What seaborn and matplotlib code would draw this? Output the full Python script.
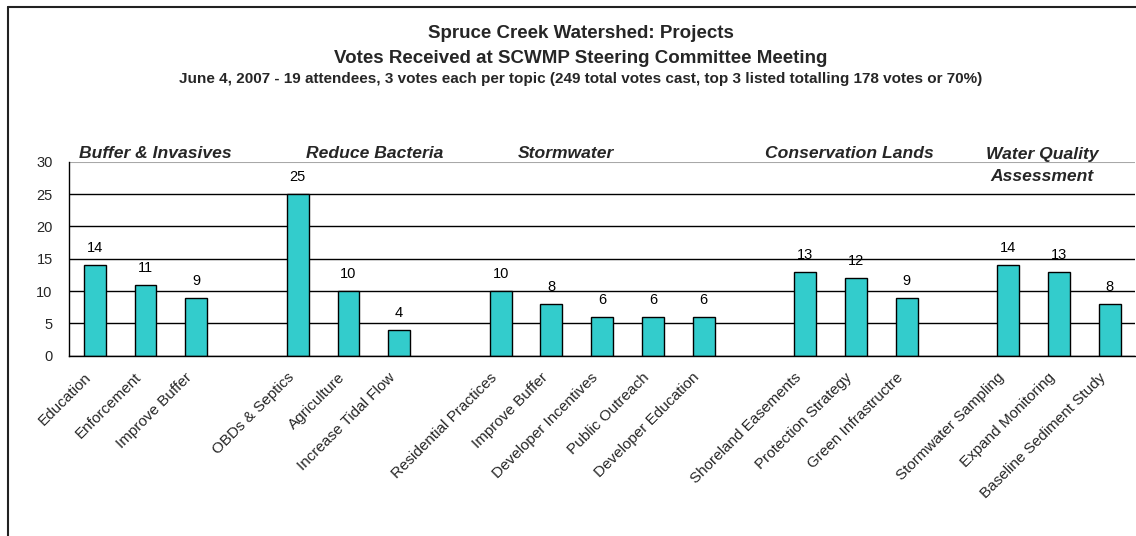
import matplotlib
matplotlib.use("Agg")
import matplotlib.pyplot as plt
import seaborn as sns
import pandas as pd
from matplotlib.lines import Line2D
from matplotlib.ticker import FixedLocator

# ---------------- data ----------------
groups = ["Buffer & Invasives", "Reduce Bacteria", "Stormwater",
          "Conservation Lands", "Water Quality\nAssessment"]
projects_buffer = ["Education", "Enforcement", "Improve Buffer"]
votes_buffer = [14, 11, 9]
projects_bacteria = ["OBDs & Septics", "Agriculture", "Increase Tidal Flow"]
votes_bacteria = [25, 10, 4]
projects_storm = ["Residential Practices", "Improve Buffer", "Developer Incentives",
                  "Public Outreach", "Developer Education"]
votes_storm = [10, 8, 6, 6, 6]
projects_cons = ["Shoreland Easements", "Protection Strategy", "Green Infrastructre"]
votes_cons = [13, 12, 9]
projects_wq = ["Stormwater Sampling", "Expand Monitoring", "Baseline Sediment Study"]
votes_wq = [14, 13, 8]
y_ticks = [0, 5, 10, 15, 20, 25, 30]

title1 = "Spruce Creek Watershed: Projects"
title2 = "Votes Received at SCWMP Steering Committee Meeting"
title3 = ("June 4, 2007 - 19 attendees, 3 votes each per topic "
          "(249 total votes cast, top 3 listed totalling 178 votes or 70%)")

all_projects = [projects_buffer, projects_bacteria, projects_storm, projects_cons, projects_wq]
all_votes = [votes_buffer, votes_bacteria, votes_storm, votes_cons, votes_wq]

# build table with an empty slot between groups
rows, tick_labels = [], []
slot = 0
for g, (names, vals) in enumerate(zip(all_projects, all_votes)):
    for n, v in zip(names, vals):
        rows.append({"slot": f"s{slot}", "project": n, "votes": v, "group": groups[g]})
        tick_labels.append(n)
        slot += 1
    if g < len(groups) - 1:
        tick_labels.append("")
        slot += 1
order = [f"s{i}" for i in range(slot)]
df = pd.DataFrame(rows)

# ---------------- style ----------------
sns.set_theme(style="white")
plt.rcParams["font.family"] = ["Liberation Sans", "DejaVu Sans"]

fig = plt.figure(figsize=(11.36, 5.36), dpi=100)
W, H = 1136, 536
ax = fig.add_axes([69.3 / W, 1 - 355.7 / H, (1135 - 69.3) / W, (355.7 - 161.7) / H])

sns.barplot(data=df, x="slot", y="votes", order=order, color="#33CCCC",
            saturation=1, edgecolor="black", linewidth=1, width=0.43, ax=ax)

for c in ax.containers:
    ax.bar_label(c, padding=7, fontsize=10.5, color="black")

ax.set_xlim(-0.5, len(order) - 0.5)
ax.set_ylim(0, 30)
ax.set_yticks(y_ticks)
ax.set_xlabel("")
ax.set_ylabel("")

ax.set_axisbelow(True)
ax.yaxis.grid(True, color="black", linewidth=1)
ax.get_ygridlines()[-1].set_color("#a8a8a8")
ax.get_ygridlines()[-1].set_linewidth(1.5)
ax.xaxis.grid(False)

for s in ["top", "right"]:
    ax.spines[s].set_visible(False)
for s in ["left", "bottom"]:
    ax.spines[s].set_color("black")
    ax.spines[s].set_linewidth(1)

# label anchors sit slightly left of each bar centre (as in the original)
label_offset = -0.12
ax.set_xticks([i + label_offset for i in range(len(order))])
ax.set_xticklabels(tick_labels, rotation=45, ha="right", va="center",
                   rotation_mode="anchor", fontsize=11)
ax.tick_params(axis="x", which="major", length=0, pad=14)
ax.xaxis.set_minor_locator(FixedLocator([i - 0.5 for i in range(len(order) + 1)]))
ax.tick_params(axis="x", which="minor", length=5, width=1, color="black", direction="out")
ax.tick_params(axis="y", length=5, width=1, color="black", direction="out",
               labelsize=10.5, pad=7)

# group headings
group_x = [1.20, 5.52, 9.29, 14.88, 18.67]
group_y = [31.3, 31.3, 31.3, 31.3, 29.45]
for name, gx, gy in zip(groups, group_x, group_y):
    ax.text(gx, gy, name, ha="center", va="center", fontsize=12.6,
            fontweight="bold", style="italic", linespacing=1.6, clip_on=False)

# titles
cx = 581 / W
fig.text(cx, 1 - 38.0 / H, title1, ha="center", va="baseline", fontsize=13.5, fontweight="bold")
fig.text(cx, 1 - 63.3 / H, title2, ha="center", va="baseline", fontsize=13.5, fontweight="bold")
fig.text(cx, 1 - 83.5 / H, title3, ha="center", va="baseline", fontsize=11, fontweight="bold")

# chart-area border (left and top visible)
bx, by = 8 / W, 1 - 7 / H
fig.add_artist(Line2D([bx, bx], [0, by], transform=fig.transFigure, color="#222222", lw=1.5))
fig.add_artist(Line2D([bx, 1.01], [by, by], transform=fig.transFigure, color="#222222", lw=1.5))

fig.savefig("out.png", dpi=100)
